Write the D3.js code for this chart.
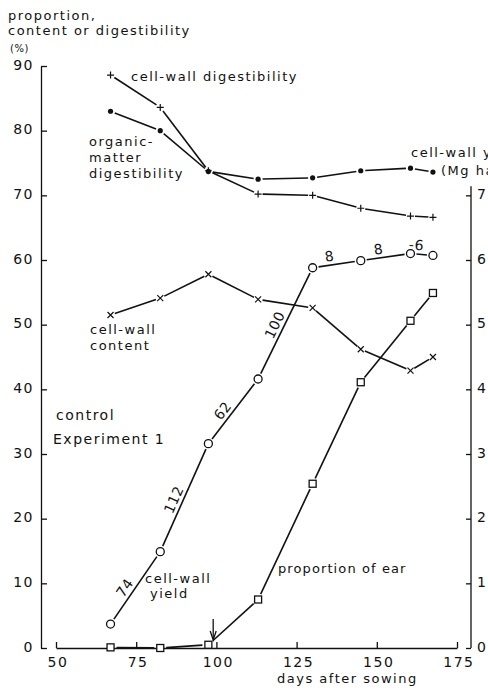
<!DOCTYPE html>
<html>
<head>
<meta charset="utf-8">
<script src="https://cdn.jsdelivr.net/npm/d3@7"></script>
<style>
  html, body { margin: 0; padding: 0; background: #fff; }
  svg { display: block; }
  text { font-family: "DejaVu Sans", sans-serif; fill: #111; }
</style>
</head>
<body>
<svg id="chart" width="488" height="692"></svg>
<script>
// Sampling dates (days after sowing)
const days = [67, 82.5, 97.5, 113, 130, 145, 160.5, 167.5];

// Left-axis series (%)
const cellWallDigestibility = [88.6, 83.6, 73.8, 70.2, 70.0, 68.0, 66.8, 66.6];
const organicMatterDigestibility = [83.0, 80.0, 73.7, 72.5, 72.7, 73.8, 74.2, 73.6];
const cellWallContent = [51.5, 54.1, 57.8, 53.9, 52.6, 46.2, 42.9, 45.0];
const proportionOfEar = [0.1, 0.0, 0.5, 7.5, 25.4, 41.1, 50.6, 54.9];

// Right-axis series (Mg ha-1)
const cellWallYield = [0.37, 1.49, 3.16, 4.16, 5.88, 5.99, 6.10, 6.07];
// Growth rate of cell-wall yield between samplings (kg ha-1 day-1)
const yieldGrowthRates = ["74", "112", "62", "100", "8", "8", "-6"];

// Ear emergence
const earEmergenceDay = 99;

// Axis ticks
const xTicks = [50, 75, 100, 125, 150, 175];
const leftTicks = [0, 10, 20, 30, 40, 50, 60, 70, 80, 90];
const rightTicks = [0, 1, 2, 3, 4, 5, 6, 7];

const svg = d3.select("#chart");
const ink = "#111";

const x = d3.scaleLinear().domain([50, 175]).range([56, 457]);
const y = d3.scaleLinear().domain([0, 90]).range([648, 66]);
const yR = d3.scaleLinear().domain([0, 9]).range([648, 66]);

const tickFont = 14;
function styleAxis(g) {
  g.selectAll("path, line").attr("stroke", ink).attr("stroke-width", 1.3);
  g.selectAll("text")
    .attr("font-size", tickFont)
    .attr("font-family", "DejaVu Sans, sans-serif")
    .attr("letter-spacing", 1.5)
    .attr("fill", ink);
}

// Left axis
const gL = svg.append("g").attr("transform", "translate(41,0)")
  .call(d3.axisLeft(y).tickValues(leftTicks).tickSize(-6).tickSizeOuter(0).tickPadding(7));
styleAxis(gL);
gL.selectAll("text").attr("dy", "0.22em");

// Right axis (drawn up to just above 7)
const axisRX = 471;
const gR = svg.append("g").attr("transform", `translate(${axisRX},0)`)
  .call(d3.axisRight(yR).tickValues(rightTicks).tickSize(-5).tickSizeOuter(0).tickPadding(6));
gR.select(".domain").remove();
gR.append("line").attr("x1", 0).attr("x2", 0)
  .attr("y1", yR(0)).attr("y2", yR(7.14));
styleAxis(gR);
gR.selectAll("text").attr("dy", "0.22em");

// Bottom axis
const gX = svg.append("g").attr("transform", "translate(0,648)")
  .call(d3.axisBottom(x).tickValues(xTicks).tickSize(-6).tickSizeOuter(0).tickPadding(9));
styleAxis(gX);
gX.selectAll("text").attr("dx", "0.1em");

// Axis titles
function label(xp, yp, str, size, ls) {
  return svg.append("text").attr("x", xp).attr("y", yp)
    .attr("font-size", size || 13).attr("letter-spacing", ls === undefined ? 1.5 : ls)
    .text(str);
}
label(8, 20, "proportion,");
label(8, 35, "content or digestibility");
label(10, 52, "(%)", 10, 0.5);
label(277, 683, "days after sowing");
label(411, 157, "cell-wall yield");
label(441, 175, "(Mg ha\u207B\u00B9)");

// Series annotations
label(131, 81, "cell-wall digestibility");
label(89, 146, "organic-");
label(89, 162, "matter");
label(89, 178, "digestibility");
label(90, 334, "cell-wall");
label(90, 350, "content");
label(56, 420, "control", 14);
label(53, 444, "Experiment 1", 14);
label(145, 583, "cell-wall");
label(150, 598, "yield");
label(278, 573, "proportion of ear", 13, 1.1);

// Connecting lines with small gaps at each marker
function gappedSegments(pts, gap) {
  const g = svg.append("g").attr("stroke", ink).attr("stroke-width", 1.6)
    .attr("stroke-linecap", "butt");
  for (let i = 0; i < pts.length - 1; i++) {
    const [x1, y1] = pts[i], [x2, y2] = pts[i + 1];
    const len = Math.hypot(x2 - x1, y2 - y1);
    if (len <= 2 * gap) continue;
    const ux = (x2 - x1) / len, uy = (y2 - y1) / len;
    g.append("line")
      .attr("x1", x1 + ux * gap).attr("y1", y1 + uy * gap)
      .attr("x2", x2 - ux * gap).attr("y2", y2 - uy * gap);
  }
}

function pointsOf(vals, scale) {
  return vals.map((v, i) => [x(days[i]), scale(v)]);
}

const markers = {
  plus(g, p) {
    g.append("path").attr("d", `M${p[0] - 3.5},${p[1]}h7M${p[0]},${p[1] - 3.5}v7`)
      .attr("stroke", ink).attr("stroke-width", 1.2).attr("fill", "none");
  },
  dot(g, p) {
    g.append("circle").attr("cx", p[0]).attr("cy", p[1]).attr("r", 2.6).attr("fill", ink);
  },
  cross(g, p) {
    g.append("path").attr("d", `M${p[0] - 3},${p[1] - 3}l6,6M${p[0] - 3},${p[1] + 3}l6,-6`)
      .attr("stroke", ink).attr("stroke-width", 1.2).attr("fill", "none");
  },
  circle(g, p) {
    g.append("circle").attr("cx", p[0]).attr("cy", p[1]).attr("r", 4)
      .attr("fill", "#fff").attr("stroke", ink).attr("stroke-width", 1.3);
  },
  square(g, p) {
    g.append("rect").attr("x", p[0] - 3.5).attr("y", p[1] - 3.5).attr("width", 7).attr("height", 7)
      .attr("fill", "#fff").attr("stroke", ink).attr("stroke-width", 1.3);
  }
};

function drawSeries(vals, scale, marker, gap) {
  const pts = pointsOf(vals, scale);
  gappedSegments(pts, gap);
  const g = svg.append("g");
  pts.forEach(p => markers[marker](g, p));
  return pts;
}

drawSeries(cellWallDigestibility, y, "plus", 4.5);
drawSeries(organicMatterDigestibility, y, "dot", 4.5);
drawSeries(cellWallContent, y, "cross", 4.5);
drawSeries(proportionOfEar, y, "square", 6);
const yieldPts = drawSeries(cellWallYield, yR, "circle", 6);

// Growth-rate labels along the cell-wall yield line
yieldGrowthRates.forEach((r, i) => {
  const [x1, y1] = yieldPts[i], [x2, y2] = yieldPts[i + 1];
  const len = Math.hypot(x2 - x1, y2 - y1);
  const ux = (x2 - x1) / len, uy = (y2 - y1) / len;
  const nx = uy, ny = -ux; // normal towards upper-left
  const cx = (x1 + x2) / 2 + nx * 9 - ux * 6;
  const cy = (y1 + y2) / 2 + ny * 9 - uy * 6;
  const ang = Math.atan2(uy, ux) * 180 / Math.PI;
  svg.append("text")
    .attr("transform", `translate(${cx},${cy}) rotate(${ang})`)
    .attr("text-anchor", "middle").attr("dominant-baseline", "central")
    .attr("font-size", 14).attr("letter-spacing", 0.5)
    .text(r);
});

// Arrow marking ear emergence
const ax = x(earEmergenceDay);
const tipY = y(0) - 8;
svg.append("line").attr("x1", ax).attr("x2", ax).attr("y1", tipY - 21).attr("y2", tipY - 2)
  .attr("stroke", ink).attr("stroke-width", 1.3);
svg.append("path")
  .attr("d", `M${ax - 3},${tipY - 9}L${ax},${tipY}L${ax + 3},${tipY - 9}`)
  .attr("fill", "none").attr("stroke", ink).attr("stroke-width", 1.3);
</script>
</body>
</html>
